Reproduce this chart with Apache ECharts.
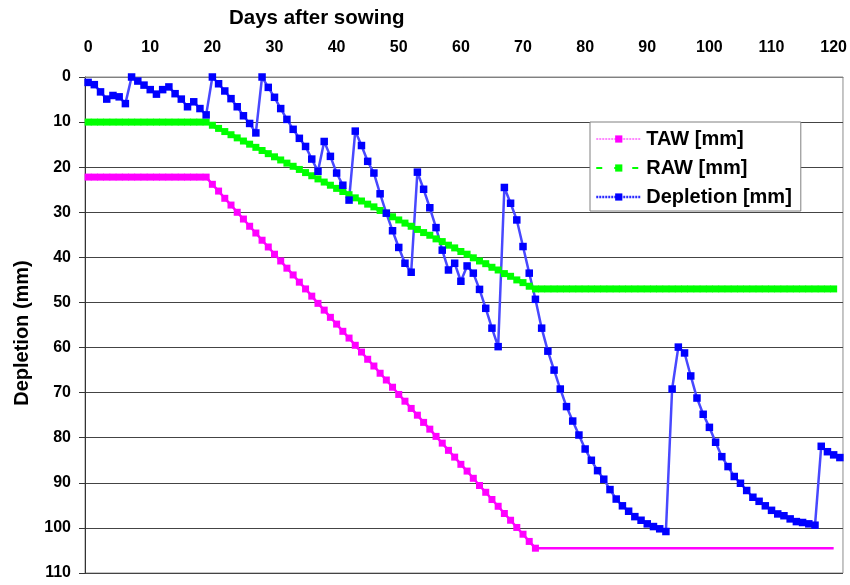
<!DOCTYPE html>
<html>
<head>
<meta charset="utf-8">
<script src="https://cdn.jsdelivr.net/npm/echarts@6/dist/echarts.min.js"></script>
<style>html,body{margin:0;padding:0;background:#fff;}#c{width:850px;height:585px;}</style>
</head>
<body>
<div id="c"></div>
<script>
// Days after sowing (categories)
const days = Array.from({length: 122}, (_, i) => String(i));

// TAW [mm], days 0..120
const taw = [
  22.2, 22.2, 22.2, 22.2, 22.2, 22.2, 22.2, 22.2, 22.2, 22.2,
  22.2, 22.2, 22.2, 22.2, 22.2, 22.2, 22.2, 22.2, 22.2, 22.2,
  23.8, 25.3, 26.9, 28.4, 30.0, 31.5, 33.1, 34.6, 36.2, 37.7,
  39.3, 40.8, 42.4, 43.9, 45.5, 47.0, 48.6, 50.2, 51.7, 53.3,
  54.8, 56.4, 57.9, 59.5, 61.0, 62.6, 64.1, 65.7, 67.2, 68.8,
  70.4, 71.9, 73.5, 75.0, 76.6, 78.1, 79.7, 81.2, 82.8, 84.3,
  85.9, 87.4, 89.0, 90.6, 92.1, 93.7, 95.2, 96.8, 98.3, 99.9,
  101.4, 103.0, 104.5, 104.5, 104.5, 104.5, 104.5, 104.5, 104.5, 104.5,
  104.5, 104.5, 104.5, 104.5, 104.5, 104.5, 104.5, 104.5, 104.5, 104.5,
  104.5, 104.5, 104.5, 104.5, 104.5, 104.5, 104.5, 104.5, 104.5, 104.5,
  104.5, 104.5, 104.5, 104.5, 104.5, 104.5, 104.5, 104.5, 104.5, 104.5,
  104.5, 104.5, 104.5, 104.5, 104.5, 104.5, 104.5, 104.5, 104.5, 104.5,
  104.5
];

// RAW [mm], days 0..120
const raw = [
  10.0, 10.0, 10.0, 10.0, 10.0, 10.0, 10.0, 10.0, 10.0, 10.0,
  10.0, 10.0, 10.0, 10.0, 10.0, 10.0, 10.0, 10.0, 10.0, 10.0,
  10.7, 11.4, 12.1, 12.8, 13.5, 14.2, 14.9, 15.6, 16.3, 17.0,
  17.7, 18.4, 19.1, 19.8, 20.5, 21.2, 21.9, 22.6, 23.3, 24.0,
  24.7, 25.4, 26.1, 26.8, 27.5, 28.2, 28.8, 29.6, 30.2, 31.0,
  31.7, 32.4, 33.1, 33.8, 34.5, 35.1, 35.9, 36.5, 37.3, 37.9,
  38.7, 39.3, 40.1, 40.8, 41.4, 42.2, 42.8, 43.6, 44.2, 45.0,
  45.6, 46.4, 47.0, 47.0, 47.0, 47.0, 47.0, 47.0, 47.0, 47.0,
  47.0, 47.0, 47.0, 47.0, 47.0, 47.0, 47.0, 47.0, 47.0, 47.0,
  47.0, 47.0, 47.0, 47.0, 47.0, 47.0, 47.0, 47.0, 47.0, 47.0,
  47.0, 47.0, 47.0, 47.0, 47.0, 47.0, 47.0, 47.0, 47.0, 47.0,
  47.0, 47.0, 47.0, 47.0, 47.0, 47.0, 47.0, 47.0, 47.0, 47.0,
  47.0
];

// Depletion [mm], days 0..121
const depletion = [
  1.2, 1.7, 3.3, 4.9, 4.1, 4.4, 5.9, 0, 0.9, 1.8,
  2.8, 3.8, 2.8, 2.2, 3.7, 4.9, 6.6, 5.5, 7.0, 8.4,
  0, 1.5, 3.1, 4.8, 6.6, 8.6, 10.3, 12.4, 0, 2.3,
  4.5, 7.0, 9.4, 11.6, 13.6, 15.4, 18.2, 20.9, 14.3, 17.6,
  21.3, 24.0, 27.3, 12.0, 15.2, 18.7, 21.3, 25.9, 30.2, 34.1,
  37.8, 41.3, 43.3, 21.1, 24.9, 29.0, 33.4, 38.4, 42.8, 41.3,
  45.3, 41.9, 43.5, 47.1, 51.3, 55.7, 59.8, 24.5, 28.0, 31.7,
  37.6, 43.5, 49.3, 55.7, 60.8, 65.0, 69.2, 73.1, 76.3, 79.4,
  82.5, 85.0, 87.3, 89.2, 91.5, 93.6, 95.1, 96.3, 97.5, 98.3,
  99.1, 99.7, 100.2, 100.8, 69.2, 59.9, 61.2, 66.3, 71.2, 74.8,
  77.7, 81.0, 84.2, 86.4, 88.6, 90.1, 91.7, 93.2, 94.1, 95.1,
  96.1, 96.9, 97.3, 98.0, 98.6, 98.8, 99.1, 99.4, 81.9, 83.1,
  83.8, 84.4
];

const lastTawMarkerDay = 72;
const FONT = '"Liberation Sans", Arial, sans-serif';

const chart = echarts.init(document.getElementById('c'), null, {renderer: 'canvas'});
chart.setOption({
  animation: false,
  backgroundColor: '#ffffff',
  grid: {left: 85, right: 6, top: 77, bottom: 12, show: true, borderColor: '#8c8c8c', borderWidth: 1},
  graphic: [
    {type: 'text', left: 229, top: 8,
     style: {text: 'Days after sowing', font: 'bold 20.5px ' + FONT, fill: '#000'}},
    {type: 'text', x: 22, y: 333, rotation: Math.PI / 2,
     style: {text: 'Depletion (mm)', font: 'bold 20px ' + FONT, fill: '#000', align: 'center', verticalAlign: 'middle'}}
  ],
  legend: {
    orient: 'vertical', left: 590, top: 122,
    padding: [7, 9, 4, 5], itemGap: 9, itemWidth: 45, itemHeight: 9,
    backgroundColor: '#fff', borderColor: '#808080', borderWidth: 1,
    textStyle: {fontFamily: FONT, fontWeight: 'bold', fontSize: 20, color: '#000', lineHeight: 20, padding: [0, 0, 0, 0]},
    itemStyle: {borderWidth: 0},
    data: [
      {name: 'TAW [mm]', lineStyle: {color: '#ff88ff', width: 2, type: [2, 1]}},
      {name: 'RAW [mm]'},
      {name: 'Depletion [mm]', lineStyle: {color: '#2a2aff', width: 2.5, type: [2, 1]}}
    ]
  },
  xAxis: {
    type: 'category', position: 'top', data: days, boundaryGap: true,
    axisLine: {show: true, lineStyle: {color: '#808080', width: 1}},
    axisTick: {show: false},
    axisLabel: {interval: 9, margin: 21, fontFamily: FONT, fontWeight: 'bold', fontSize: 16, color: '#000'},
    splitLine: {show: false}
  },
  yAxis: {
    type: 'value', inverse: true, min: 0, max: 110, interval: 10,
    axisLine: {show: true, lineStyle: {color: '#333', width: 1}},
    axisTick: {show: true, length: 6, lineStyle: {color: '#333'}},
    axisLabel: {margin: 14, fontFamily: FONT, fontWeight: 'bold', fontSize: 16, color: '#000'},
    splitLine: {show: true, lineStyle: {color: '#444', width: 1}}
  },
  series: [
    {
      name: 'TAW [mm]', type: 'line', showAllSymbol: true,
      symbol: 'rect', symbolSize: 7,
      itemStyle: {color: '#ff00ff'},
      lineStyle: {color: '#ff00ff', width: 2.5, type: 'solid'},
      data: taw.map((v, i) => i > lastTawMarkerDay ? {value: v, symbol: 'none'} : v)
    },
    {
      name: 'RAW [mm]', type: 'line', showAllSymbol: true,
      symbol: 'rect', symbolSize: 7,
      itemStyle: {color: '#00ff00'},
      lineStyle: {color: '#00ff00', width: 4, type: [6, 12]},
      data: raw
    },
    {
      name: 'Depletion [mm]', type: 'line', showAllSymbol: true,
      symbol: 'rect', symbolSize: 7.5,
      itemStyle: {color: '#0000ff'},
      lineStyle: {color: '#4848ff', width: 2.5, type: 'solid'},
      data: depletion
    }
  ]
});
</script>
</body>
</html>
